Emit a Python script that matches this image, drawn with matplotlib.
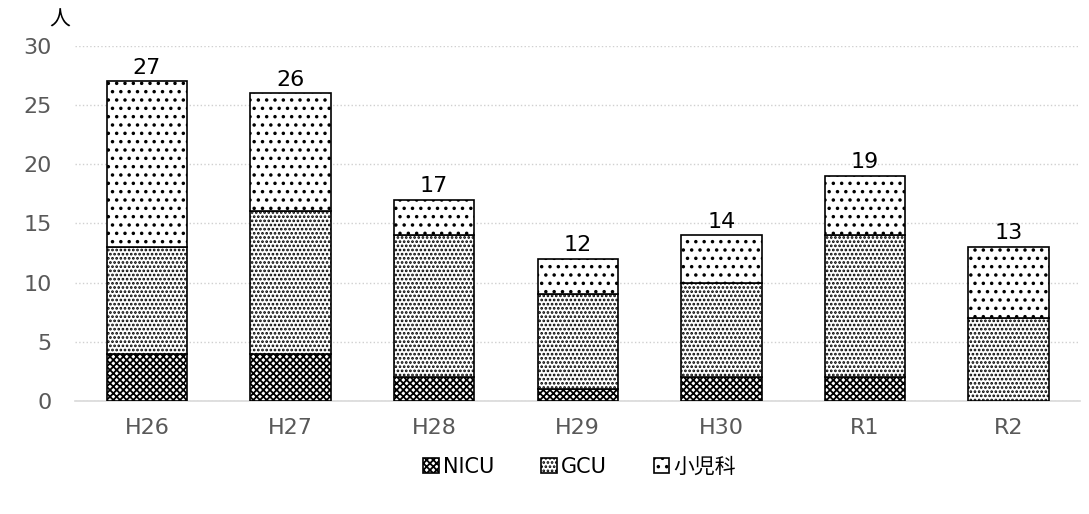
import numpy as np
import matplotlib.pyplot as plt
from matplotlib import rcParams

rcParams['font.family'] = ['DejaVu Sans', 'Noto Sans CJK JP']
rcParams['hatch.linewidth'] = 1.3

# 年度別の人数
years = ['H26', 'H27', 'H28', 'H29', 'H30', 'R1', 'R2']
nicu = [4, 4, 2, 1, 2, 2, 0]
gcu = [9, 12, 12, 8, 8, 12, 7]
shounika = [14, 10, 3, 3, 4, 5, 6]
totals = [27, 26, 17, 12, 14, 19, 13]

fig = plt.figure(figsize=(10.89, 5.14), dpi=100)
ax = fig.add_axes([0.069, 0.22, 0.923, 0.691])

x = np.arange(len(years))
w = 0.56
b1 = np.array(nicu)
b2 = b1 + np.array(gcu)
ax.bar(x, nicu, w, color='white', edgecolor='black', hatch='xxxxx', lw=1.2, label='NICU', zorder=3)
ax.bar(x, gcu, w, bottom=b1, color='white', edgecolor='black', hatch='....', lw=1.2, label='GCU', zorder=3)
ax.bar(x, shounika, w, bottom=b2, color='white', edgecolor='black', hatch='..', lw=1.2, label='小児科', zorder=3)

for xi, t in zip(x, totals):
    ax.text(xi, t + 0.3, str(t), ha='center', va='bottom', fontsize=16)

ax.set_ylim(0, 30)
ax.set_yticks(range(0, 31, 5))
ax.set_xlim(-0.5, len(years) - 0.5)
ax.set_xticks(x)
ax.set_xticklabels(years)
ax.tick_params(axis='both', length=0, labelsize=16, labelcolor='#595959')
ax.tick_params(axis='x', pad=12)
ax.tick_params(axis='y', pad=17)
ax.grid(axis='y', color='#d0d0d0', ls=':', lw=1)
for s in ['top', 'right', 'left']:
    ax.spines[s].set_visible(False)
ax.spines['bottom'].set_color('#d9d9d9')
ax.spines['bottom'].set_linewidth(1.2)

ax.text(-0.015, 1.075, '人', transform=ax.transAxes, fontsize=15, ha='center', va='center')

ax.legend(loc='center', bbox_to_anchor=(0.502, -0.185), ncol=3, frameon=False,
          fontsize=15, handlelength=0.75, handleheight=0.75, columnspacing=2.25, handletextpad=0.2)

fig.savefig('out.png')
